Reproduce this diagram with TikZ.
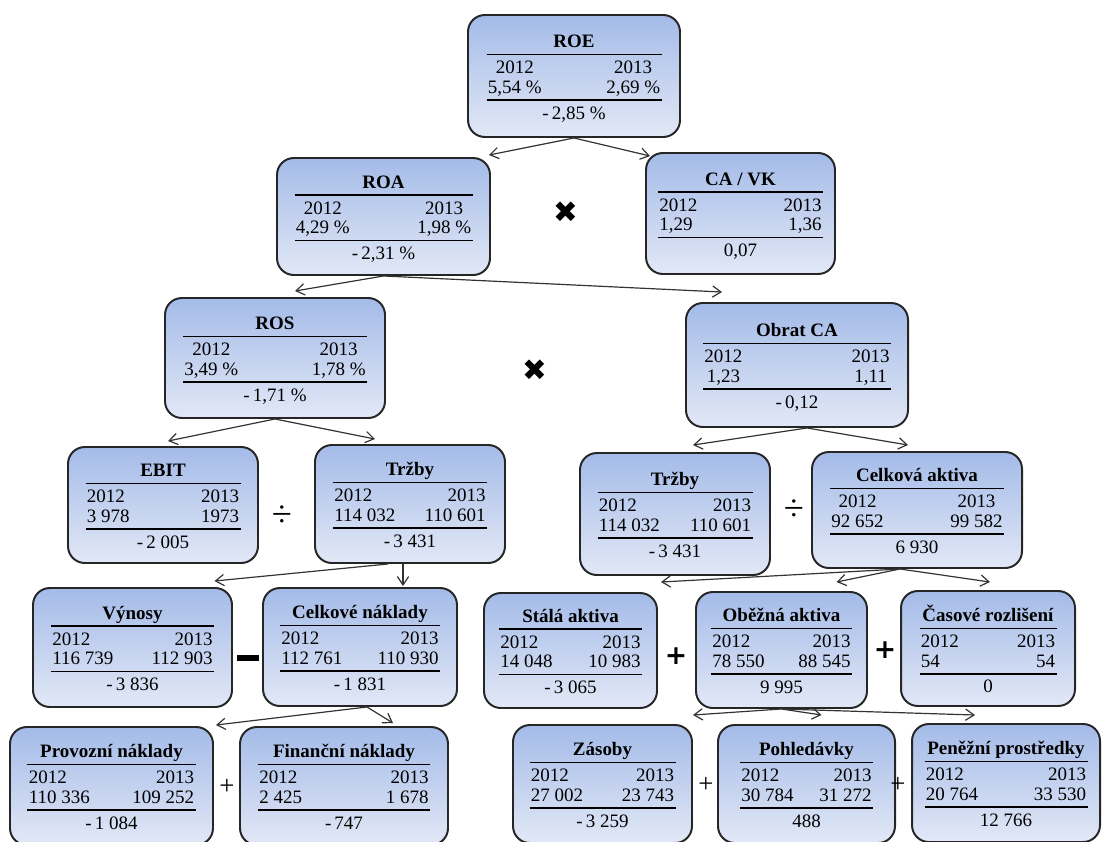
\documentclass[tikz,border=0pt]{standalone}
\usepackage{fontspec}
\setmainfont{Liberation Serif}
\newfontfamily\dejavu{DejaVu Sans}
\usepackage{array}
\usetikzlibrary{arrows.meta,calc}
\definecolor{boxtop}{RGB}{164,187,232}
\definecolor{boxbot}{RGB}{226,232,246}
\newdimen\unitpx \unitpx=0.025cm
\setlength{\arrayrulewidth}{1pt}
% ukazatel: [columns] width, title, 2012, 2013, difference
\newcommand{\ukaz}[6][lr]{%
	\begin{tabular*}{#2\unitpx}{@{\extracolsep{\fill}\hspace{1pt}}#1@{\hspace{1pt}}}
		\noalign{\vskip7\unitpx}
		\multicolumn{2}{@{}c@{}}{\textbf{#3}}\\ \hline\noalign{\vskip3pt}
		2012 & 2013\\
		#4 & #5\\ \hline\noalign{\vskip3pt}
		\multicolumn{2}{@{}c@{}}{#6}
	\end{tabular*}}
\tikzset{%
	ukazatel/.style 2 args = {draw=black!85, line width=1.4pt, rounded corners=12pt, top color=boxtop, bottom color=boxbot, inner sep=0pt, minimum width=#1*0.025cm, minimum height=#2*0.025cm, font=\fontsize{13.5}{14.2}\selectfont},
	arrow/.style    = {draw=black!80, line width=0.85pt, -{Straight Barb[length=6pt,width=8pt]}},
	opkrat/.style   = {inner sep=0pt, font=\dejavu\fontsize{21}{21}\selectfont},
	opdel/.style    = {inner sep=0pt, font=\fontsize{26}{26}\selectfont},
	opplus/.style   = {inner sep=0pt, font=\fontsize{19}{19}\selectfont},
	opplusb/.style  = {inner sep=0pt, font=\dejavu\bfseries\fontsize{19}{19}\selectfont},
	opminus/.style  = {inner sep=0pt},
}
\begin{document}
\begin{tikzpicture}[x=0.025cm,y=-0.025cm]
	\useasboundingbox (0,0) rectangle (1102,841);
	\clip (0,0) rectangle (1102,841);
	
	\node [ukazatel={212}{122}] (roe) at (574,76) {\ukaz[cc]{175}{ROE}{5,54 \%}{2,69 \%}{-\,2,85 \%}};
	\node [ukazatel={213}{117}] (roa) at (383.5,216.5) {\ukaz[cc]{178}{ROA}{4,29 \%}{1,98 \%}{-\,2,31 \%}};
	\node [ukazatel={189}{121}] (cavk) at (740.5,213.5) {\ukaz{165}{CA / VK}{1,29}{1,36}{0,07}};
	\node [ukazatel={220}{120}] (ros) at (275,358) {\ukaz[cc]{184}{ROS}{3,49 \%}{1,78 \%}{-\,1,71 \%}};
	\node [ukazatel={222}{124}] (obrat) at (797,365) {\ukaz[cc]{188}{Obrat CA}{1,23}{1,11}{-\,0,12}};
	\node [ukazatel={190}{116}] (ebit) at (163,505) {\ukaz{155}{EBIT}{3 978}{1973}{-\,2 005}};
	\node [ukazatel={190}{118}] (trzbyl) at (410,504) {\ukaz{154}{Tržby}{114 032}{110 601}{-\,3 431}};
	\node [ukazatel={190}{122}] (trzbyp) at (675,514) {\ukaz{155}{Tržby}{114 032}{110 601}{-\,3 431}};
	\node [ukazatel={210}{116}] (aktiva) at (917,510) {\ukaz[cc]{174}{Celková aktiva}{92 652}{99 582}{6 930}};
	\node [ukazatel={199}{119}] (vynosy) at (132.5,647.5) {\ukaz{163}{Výnosy}{116 739}{112 903}{-\,3 836}};
	\node [ukazatel={194}{118}] (naklady) at (360,647) {\ukaz{160}{Celkové náklady}{112 761}{110 930}{-\,1 831}};
	\node [ukazatel={173}{115}] (stala) at (570.5,650.5) {\ukaz{143}{Stálá aktiva}{14 048}{10 983}{-\,3 065}};
	\node [ukazatel={171}{116}] (obezna) at (781.5,650) {\ukaz{141}{Oběžná aktiva}{78 550}{88 545}{9 995}};
	\node [ukazatel={174}{115}] (casove) at (988,648.5) {\ukaz{137}{Časové rozlišení}{54}{54}{0}};
	\node [ukazatel={203}{118}] (provozni) at (111.5,786) {\ukaz{168}{Provozní náklady}{110 336}{109 252}{-\,1 084}};
	\node [ukazatel={208}{118}] (financni) at (344,786) {\ukaz{172}{Finanční náklady}{2 425}{1 678}{-\,747}};
	\node [ukazatel={179}{118}] (zasoby) at (602.5,784) {\ukaz{146}{Zásoby}{27 002}{23 743}{-\,3 259}};
	\node [ukazatel={177}{118}] (pohledavky) at (806.5,784) {\ukaz{133}{Pohledávky}{30 784}{31 272}{488}};
	\node [ukazatel={188}{118}] (penezni) at (1006,783) {\ukaz{163}{Peněžní prostředky}{20 764}{33 530}{12 766}};
	
	% operators
	\node [opkrat] (krat1) at (566,212) {✖};
	\node [opkrat] (krat2) at (535,370) {✖};
	\node [opdel] (del1) at (282,516) {÷};
	\node [opdel] (del2) at (794,510) {÷};
	\node [opminus] (minus1) at (248,658) {\rule{22\unitpx}{6\unitpx}};
	\node [opplusb] (plus1) at (676,656) {+};
	\node [opplusb] (plus2) at (885,650) {+};
	\node [opplus] (plus3) at (227,787) {+};
	\node [opplus] (plus4) at (706,785) {+};
	\node [opplus] (plus5) at (898,785) {+};
	
	\draw[arrow] (roe.south) -- ($(roa.north east)+(-2,-2)$);
	\draw[arrow] (roe.south) -- ($(cavk.north west)+(5,4)$);
	\draw[arrow] (roa.south) -- ($(ros.north)+(20,-6)$);
	\draw[arrow] (roa.south) -- ($(obrat.north west)+(37,-10)$);
	\draw[arrow] (ros.south) -- ($(ebit.north)+(5,-5)$);
	\draw[arrow] (ros.south) -- ($(trzbyl.north)+(-35,-5)$);
	\draw[arrow] ($(obrat.south)+(10,0)$) -- ($(trzbyp.north)+(18,-7)$);
	\draw[arrow] ($(obrat.south)+(10,0)$) -- ($(aktiva.north)+(-9,-6)$);
	\draw[arrow] ($(trzbyl.south)+(-22,0)$) -- ($(vynosy.north)+(82,-6)$);
	\draw[arrow] ($(trzbyl.south)+(-7,0)$) -- ($(naklady.north)+(43,-1)$);
	\draw[arrow] ($(aktiva.south)+(-17,0)$) -- ($(stala.north east)+(3,-10)$);
	\draw[arrow] ($(aktiva.south)+(-17,0)$) -- ($(obezna.north)+(55,-9)$);
	\draw[arrow] ($(aktiva.south)+(-17,0)$) -- ($(casove.north)+(2,-8)$);
	\draw[arrow] ($(naklady.south)+(7,0)$) -- ($(provozni.north east)+(2,-1)$);
	\draw[arrow] ($(naklady.south)+(7,0)$) -- ($(financni.north)+(49,-3)$);
	\draw[arrow] (obezna.south) -- ($(zasoby.north east)+(0,-9)$);
	\draw[arrow] (obezna.south) -- ($(pohledavky.north)+(15,-9)$);
	\draw[arrow] (obezna.south) -- ($(penezni.north)+(-31,-8)$);
\end{tikzpicture}
\end{document}
